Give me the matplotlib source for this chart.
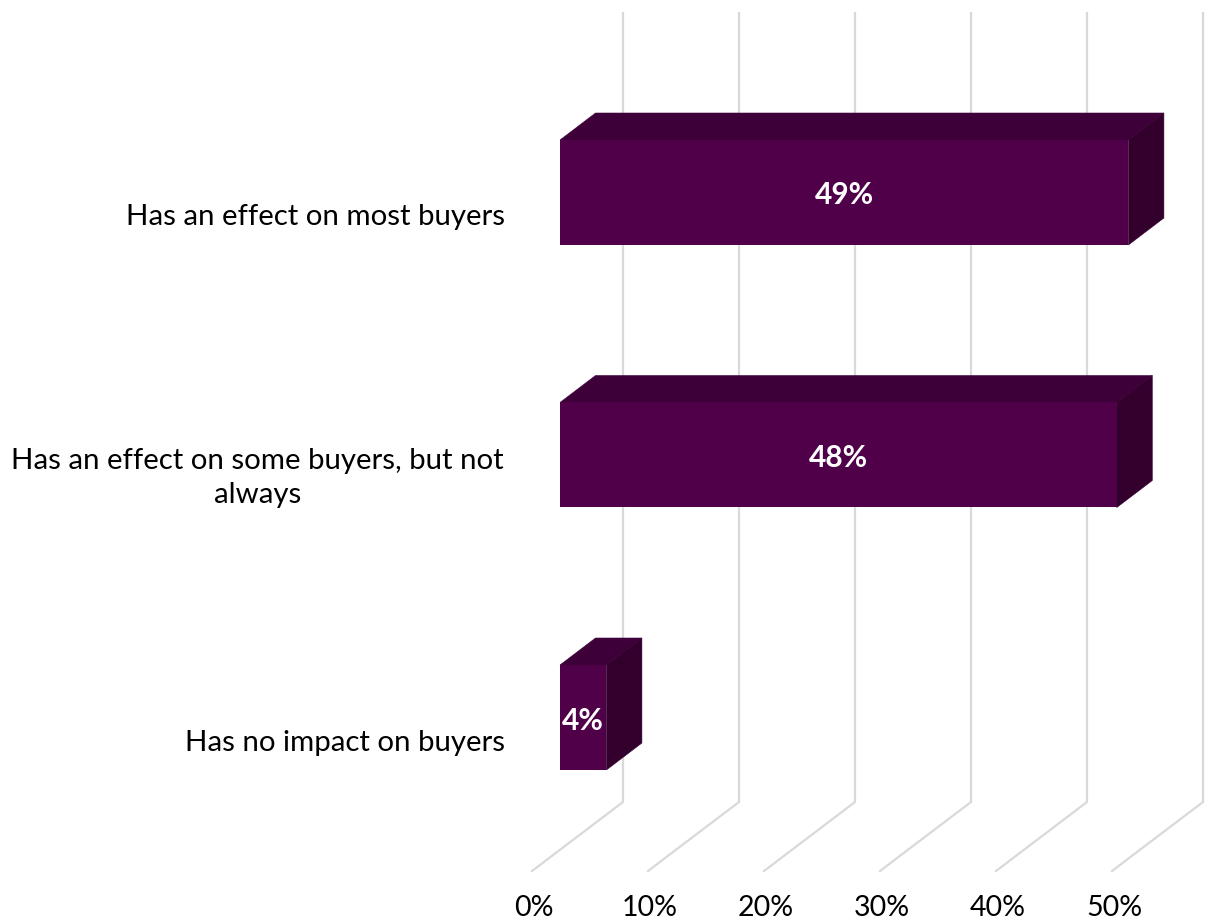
import matplotlib
matplotlib.use("Agg")
import matplotlib.pyplot as plt
from matplotlib.patches import Polygon

categories = ["Has an effect on most buyers", "Has an effect on some buyers, but not\nalways", "Has no impact on buyers"]
values = [49, 48, 4]
tick_values = [0, 10, 20, 30, 40, 50]
tick_labels = ["0%", "10%", "20%", "30%", "40%", "50%"]

W, H = 1209, 922
PX_PER_PCT = 11.6
PX_PER_CAT = 262.5
X0_PX, Y0_PX = 560, 192.5
FRONT, TOP, SIDE = "#4F0049", "#3E0039", "#33002E"
GRID = "#D9D9D9"
FONT = ["Lato", "DejaVu Sans"]

fig = plt.figure(figsize=(W / 100, H / 100), dpi=100)
ax = fig.add_axes([0, 0, 1, 1])
ax.set_xlim(-X0_PX / PX_PER_PCT, (W - X0_PX) / PX_PER_PCT)
ax.set_ylim((H - Y0_PX) / PX_PER_CAT, -Y0_PX / PX_PER_CAT)
ax.axis("off")

dx = 35.5 / PX_PER_PCT          # depth offset of the 3D box
dy = 27 / PX_PER_CAT
half = 52.5 / PX_PER_CAT
back_x = 63 / PX_PER_PCT
front_x = -28 / PX_PER_PCT
grid_top = (13 - Y0_PX) / PX_PER_CAT
grid_bot = (802 - Y0_PX) / PX_PER_CAT
grid_end = (871 - Y0_PX) / PX_PER_CAT
tick_y = (908 - Y0_PX) / PX_PER_CAT
label_right = -55 / PX_PER_PCT
label_center = -302.5 / PX_PER_PCT

for t, lab in zip(tick_values, tick_labels):
    ax.plot([t + back_x, t + back_x, t + front_x], [grid_top, grid_bot, grid_end],
            color=GRID, lw=1.6, solid_joinstyle="miter", zorder=1)
    ax.text(t + front_x + 2 / PX_PER_PCT, tick_y, lab, ha="center", va="center",
            fontsize=20.5, color="#000000", family=FONT)

for i, (cat, v) in enumerate(zip(categories, values)):
    ax.add_patch(Polygon([(0, i - half), (v, i - half), (v + dx, i - half - dy), (dx, i - half - dy)],
                         closed=True, fc=TOP, ec=TOP, lw=0.4, zorder=2))
    ax.add_patch(Polygon([(v, i - half), (v + dx, i - half - dy), (v + dx, i + half - dy), (v, i + half)],
                         closed=True, fc=SIDE, ec=SIDE, lw=0.4, zorder=2))
    ax.barh(i, v, height=2 * half, color=FRONT, zorder=3)
    ax.text(v / 2, i + 3 / PX_PER_CAT, f"{v}%", ha="center", va="center", color="white",
            fontsize=21.5, fontweight="bold", family=FONT, zorder=4)
    if "\n" in cat:
        ax.text(label_center, i + 23 / PX_PER_CAT, cat, ha="center", va="center",
                fontsize=21.2, color="#000000", family=FONT, multialignment="center", linespacing=1.38)
    else:
        ax.text(label_right, i + 25 / PX_PER_CAT, cat, ha="right", va="center",
                fontsize=21.2, color="#000000", family=FONT)

fig.savefig("out.png", dpi=100, facecolor="white")
